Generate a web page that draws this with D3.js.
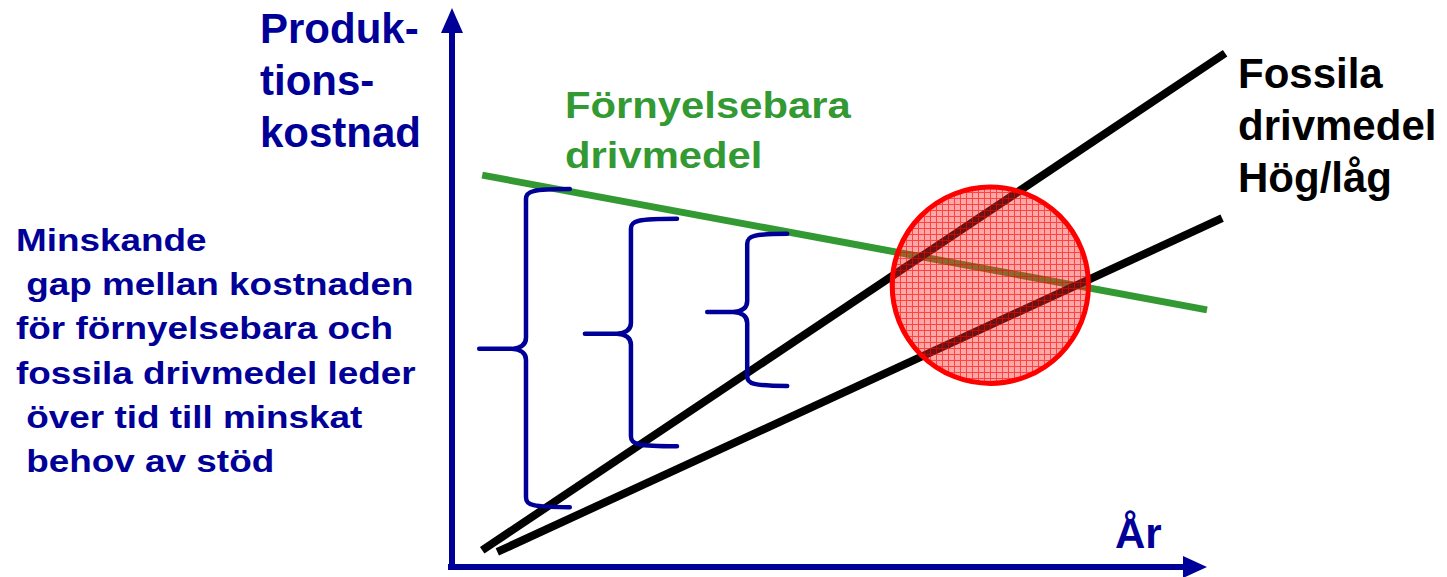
<!DOCTYPE html>
<html>
<head>
    <meta charset="utf-8">
    <title>Produktionskostnad</title>
    <script src="https://d3js.org/d3.v7.min.js"></script>
    <style>
        body { margin: 0; background: #fff; }
        svg text { font-family: "Liberation Sans", Arial, sans-serif; font-weight: bold; white-space: pre; }
    </style>
</head>
<body>
    <svg id="chart" width="1447" height="577"></svg>

    <script>
        // line end points (x = time, y = cost, both 0..100)
        var greenX = [4, 100];
        var greenY = [70.1, 46.0];
        var fossilHighX = [4, 102.4];
        var fossilHighY = [3.0, 91.9];
        var fossilLowX = [6, 102];
        var fossilLowY = [2.7, 62.4];

        // overlap circle
        var circleX = 71.3, circleY = 50.4, circleR = 13;

        // braces showing the gap
        var braceSpine = [9.8, 23.7, 39.1];
        var braceTip = [3.6, 17.6, 33.8];
        var braceEnd = [15.6, 29.8, 44.4];
        var braceTop = [67.6, 62.3, 59.6];
        var braceMid = [39.2, 41.9, 45.8];
        var braceBottom = [10.7, 21.6, 32.4];

        var yTitle = ["Produk-", "tions-", "kostnad"];
        var gapText = ["Minskande", " gap mellan kostnaden", "för förnyelsebara och",
                       "fossila drivmedel leder", " över tid till minskat", " behov av stöd"];
        var greenLabel = ["Förnyelsebara", "drivmedel"];
        var fossilLabel = ["Fossila", "drivmedel", "Hög/låg"];
        var xTitle = "År";

        var blue = "#000099", green = "#339933";

        var svg = d3.select("#chart");
        var x = d3.scaleLinear().domain([0, 100]).range([452, 1207]);
        var y = d3.scaleLinear().domain([0, 100]).range([567, 8]);

        // pattern for the hatched circle
        var pat = svg.append("defs").append("pattern")
            .attr("id", "hatch")
            .attr("patternUnits", "userSpaceOnUse")
            .attr("width", 6).attr("height", 6);
        pat.append("rect").attr("width", 6).attr("height", 6)
            .attr("fill", "#ff2a2a").attr("opacity", 0.42);
        pat.append("path").attr("d", "M0,0.5H6M0.5,0V6")
            .attr("stroke", "#ff0000").attr("stroke-width", 1).attr("opacity", 0.6);

        // axes
        var axisW = 6;
        svg.append("line")
            .attr("x1", x(0)).attr("y1", y(0) + axisW / 2)
            .attr("x2", x(0)).attr("y2", y(100) + 20)
            .attr("stroke", blue).attr("stroke-width", axisW);
        svg.append("path")
            .attr("d", "M" + x(0) + "," + y(100) + "L" + (x(0) - 11) + "," + (y(100) + 25) + "L" + (x(0) + 11) + "," + (y(100) + 25) + "Z")
            .attr("fill", blue);
        svg.append("line")
            .attr("x1", x(0) - 4).attr("y1", y(0))
            .attr("x2", x(100) - 20).attr("y2", y(0))
            .attr("stroke", blue).attr("stroke-width", axisW);
        svg.append("path")
            .attr("d", "M" + x(100) + "," + y(0) + "L" + (x(100) - 24) + "," + (y(0) - 11) + "L" + (x(100) - 24) + "," + (y(0) + 11) + "Z")
            .attr("fill", blue);

        // cost lines
        var line = d3.line().x(function(d) { return x(d[0]); }).y(function(d) { return y(d[1]); });
        function pts(xs, ys) { return xs.map(function(v, i) { return [v, ys[i]]; }); }

        svg.append("path").attr("d", line(pts(greenX, greenY)))
            .attr("stroke", green).attr("stroke-width", 7).attr("fill", "none");
        svg.append("path").attr("d", line(pts(fossilHighX, fossilHighY)))
            .attr("stroke", "#000").attr("stroke-width", 8).attr("fill", "none");
        svg.append("path").attr("d", line(pts(fossilLowX, fossilLowY)))
            .attr("stroke", "#000").attr("stroke-width", 8).attr("fill", "none");

        // braces
        var r = 10;
        braceSpine.forEach(function(s, i) {
            var sx = x(s), tx = x(braceTip[i]), ex = x(braceEnd[i]);
            var top = y(braceTop[i]), mid = y(braceMid[i]), bot = y(braceBottom[i]);
            var d = "M" + ex + "," + top +
                "C" + (sx + 6) + "," + top + " " + sx + "," + (top + 2) + " " + sx + "," + (top + r) +
                "L" + sx + "," + (mid - r) +
                "Q" + sx + "," + mid + " " + (sx - r - 4) + "," + (mid + 1) +
                "L" + tx + "," + (mid + 1) +
                "M" + (sx - r - 4) + "," + (mid + 1) +
                "Q" + sx + "," + (mid + 2) + " " + sx + "," + (mid + r + 2) +
                "L" + sx + "," + (bot - r) +
                "C" + sx + "," + (bot - 2) + " " + (sx + 6) + "," + bot + " " + ex + "," + bot;
            svg.append("path").attr("d", d)
                .attr("stroke", blue).attr("stroke-width", 4.5)
                .attr("fill", "none").attr("stroke-linecap", "round");
        });

        // overlap circle
        svg.append("circle")
            .attr("cx", x(circleX)).attr("cy", y(circleY))
            .attr("r", x(circleR) - x(0))
            .attr("fill", "url(#hatch)")
            .attr("stroke", "#ff0000").attr("stroke-width", 5);

        // texts
        svg.append("g").selectAll("text").data(yTitle).join("text")
            .attr("x", 260).attr("y", function(d, i) { return 43 + i * 52; })
            .attr("font-size", 42).attr("fill", blue).text(function(d) { return d; });

        svg.append("g").attr("transform", "translate(16,0) scale(1.153,1)")
            .selectAll("text").data(gapText).join("text")
            .attr("x", 0).attr("y", function(d, i) { return 251 + i * 44.2; })
            .attr("font-size", 32).attr("fill", blue).text(function(d) { return d; });

        svg.append("g").attr("transform", "translate(565,0) scale(1.13,1)")
            .selectAll("text").data(greenLabel).join("text")
            .attr("x", 0).attr("y", function(d, i) { return 118 + i * 50; })
            .attr("font-size", 37).attr("fill", green).text(function(d) { return d; });

        svg.append("g").selectAll("text").data(fossilLabel).join("text")
            .attr("x", 1238).attr("y", function(d, i) { return 88 + i * 52; })
            .attr("font-size", 42).attr("fill", "#000").text(function(d) { return d; });

        svg.append("text").attr("x", 1115).attr("y", 548)
            .attr("font-size", 42).attr("fill", blue).text(xTitle);
    </script>
</body>
</html>
